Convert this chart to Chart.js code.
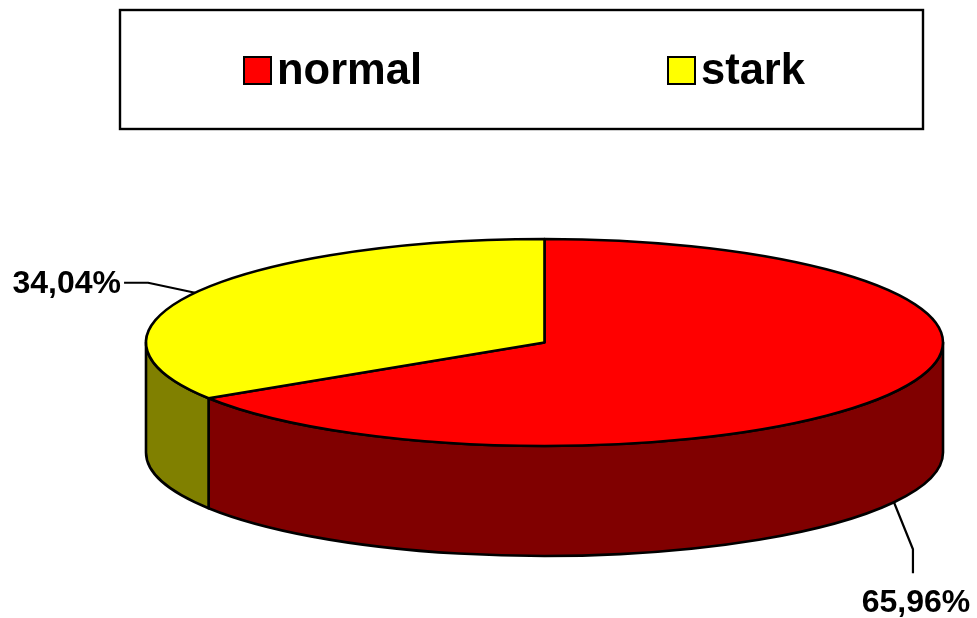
<!DOCTYPE html>
<html>
<head>
<meta charset="utf-8">
<script src="https://cdn.jsdelivr.net/npm/chart.js@4/dist/chart.umd.min.js"></script>
<style>
  html, body { margin: 0; padding: 0; background: #fff; }
  #wrap { width: 977px; height: 618px; }
</style>
</head>
<body>
<div id="wrap"><canvas id="c" width="977" height="618"></canvas></div>
<script>
// Categories and shares (percent)
const categories = ['normal', 'stark'];
const shares = [65.96, 34.04];
// Top face colours and the darker side-wall colours
const topColors = ['#FF0000', '#FFFF00'];
const sideColors = ['#800000', '#808000'];

const FONT = '"Liberation Sans", Arial, sans-serif';

function fmtPct(v) {
  return v.toFixed(2).replace('.', ',') + '%';
}

// Draws the pie as a tilted disc using the arc angles computed by Chart.js
const pie3d = {
  id: 'pie3d',
  beforeDatasetDraw() {
    return false; // the flat arcs are replaced by the 3D drawing below
  },
  afterDatasetsDraw(chart, args, opts) {
    const ctx = chart.ctx;
    const area = chart.chartArea;
    const depth = opts.depth;
    const cx = (area.left + area.right) / 2;
    const rx = (area.right - area.left) / 2;
    const ry = (area.bottom - area.top - depth) / 2;
    const cy = area.top + ry;
    const arcs = chart.getDatasetMeta(0).data;
    const TAU = Math.PI * 2;

    ctx.save();
    ctx.lineWidth = 2.6;
    ctx.strokeStyle = '#000';
    ctx.lineJoin = 'round';

    // Side walls: only the part of each slice that faces the viewer
    arcs.forEach((arc, i) => {
      const a = arc.startAngle, b = arc.endAngle;
      for (let k = -1; k <= 1; k++) {
        const lo = Math.max(a, TAU * k);
        const hi = Math.min(b, TAU * k + Math.PI);
        if (hi <= lo) continue;
        ctx.beginPath();
        ctx.ellipse(cx, cy, rx, ry, 0, lo, hi, false);
        ctx.lineTo(cx + rx * Math.cos(hi), cy + depth + ry * Math.sin(hi));
        ctx.ellipse(cx, cy + depth, rx, ry, 0, hi, lo, true);
        ctx.closePath();
        ctx.fillStyle = sideColors[i];
        ctx.fill();
        ctx.stroke();
      }
    });

    // Top faces
    arcs.forEach((arc, i) => {
      ctx.beginPath();
      ctx.moveTo(cx, cy);
      ctx.ellipse(cx, cy, rx, ry, 0, arc.startAngle, arc.endAngle, false);
      ctx.closePath();
      ctx.fillStyle = topColors[i];
      ctx.fill();
      ctx.stroke();
    });

    // Percentage labels with leader lines
    ctx.lineWidth = 2.2;
    ctx.font = 'bold ' + opts.labelSize + 'px ' + FONT;
    ctx.fillStyle = '#000';
    ctx.textBaseline = 'middle';
    arcs.forEach((arc, i) => {
      const mid = (arc.startAngle + arc.endAngle) / 2;
      let px = cx + rx * Math.cos(mid);
      let py = cy + ry * Math.sin(mid);
      const front = Math.sin(mid) > 0;
      if (front) py += depth;
      const lead = opts.leaders[i];
      const ex = px + lead.elbow[0], ey = py + lead.elbow[1];
      const tx = ex + lead.tail[0], ty = ey + lead.tail[1];
      ctx.beginPath();
      ctx.moveTo(px, py);
      ctx.lineTo(ex, ey);
      ctx.lineTo(tx, ty);
      ctx.stroke();
      const text = fmtPct(shares[i]);
      if (lead.tail[0] < 0) {
        ctx.textAlign = 'right';
        ctx.fillText(text, tx - 3, ty + 1);
      } else {
        ctx.textAlign = 'center';
        ctx.fillText(text, tx + 3, ty + 30);
      }
    });
    ctx.restore();
  }
};

// Framed legend at the top
const boxedLegend = {
  id: 'boxedLegend',
  afterDraw(chart, args, opts) {
    const ctx = chart.ctx;
    ctx.save();
    ctx.lineWidth = 2.4;
    ctx.strokeStyle = '#000';
    const f = opts.frame;
    ctx.strokeRect(f[0], f[1], f[2] - f[0], f[3] - f[1]);
    ctx.font = 'bold ' + opts.fontSize + 'px ' + FONT;
    ctx.textBaseline = 'alphabetic';
    ctx.textAlign = 'left';
    categories.forEach((name, i) => {
      const x = opts.itemX[i];
      ctx.fillStyle = topColors[i];
      ctx.fillRect(x, opts.boxY, opts.boxSize, opts.boxSize);
      ctx.lineWidth = 2;
      ctx.strokeRect(x, opts.boxY, opts.boxSize, opts.boxSize);
      ctx.fillStyle = '#000';
      ctx.fillText(name, x + opts.boxSize + 6, opts.baseline);
    });
    ctx.restore();
  }
};

new Chart(document.getElementById('c'), {
  type: 'pie',
  data: {
    labels: categories,
    datasets: [{ data: shares, backgroundColor: topColors, borderWidth: 0 }]
  },
  options: {
    responsive: false,
    animation: false,
    events: [],
    layout: { padding: { left: 146, right: 34, top: 239, bottom: 62 } },
    plugins: {
      legend: { display: false },
      tooltip: { enabled: false },
      pie3d: {
        depth: 110,
        labelSize: 32,
        leaders: [
          { elbow: [19, 47], tail: [0, 24] },
          { elbow: [-47, -10], tail: [-24, 0] }
        ]
      },
      boxedLegend: {
        frame: [120, 10, 923, 129],
        itemX: [244, 668],
        boxY: 57,
        boxSize: 27,
        baseline: 84,
        fontSize: 43.5
      }
    }
  },
  plugins: [pie3d, boxedLegend]
});
</script>
</body>
</html>
